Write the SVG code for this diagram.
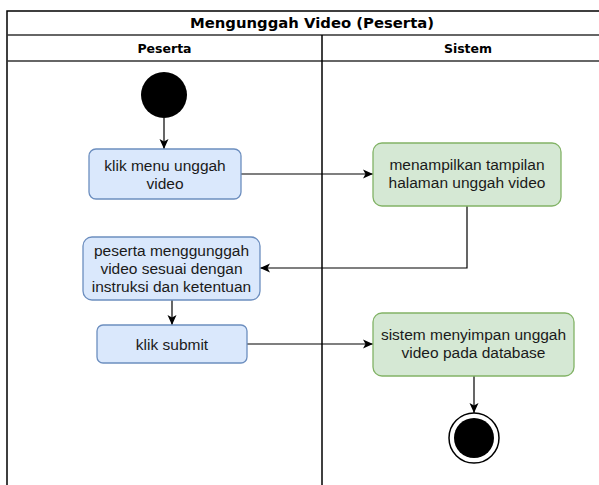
<svg xmlns="http://www.w3.org/2000/svg" width="599" height="485" viewBox="0 0 599 485">
<style>
  .lane { fill: none; stroke: #000; stroke-width: 1.5; }
  .row { stroke: #333; stroke-width: 1.4; }
  .title { font-family: "DejaVu Sans", Verdana, sans-serif; font-weight: bold; fill: #000; text-anchor: middle; }
  .blue { fill: #dae8fc; stroke: #6c8ebf; stroke-width: 1.3; }
  .green { fill: #d5e8d4; stroke: #82b366; stroke-width: 1.3; }
  .lbl { font-family: "Liberation Sans", Arial, sans-serif; font-size: 15.5px; fill: #1a1a1a; text-anchor: middle; }
  .conn { fill: none; stroke: #000; stroke-width: 1.2; marker-end: url(#arrow); }
</style>
<defs>
  <marker id="arrow" markerUnits="userSpaceOnUse" markerWidth="12" markerHeight="10" refX="10" refY="5" orient="auto">
    <path d="M0,0.5 L10,5 L0,9.5 L2.5,5 z" fill="#000"/>
  </marker>
</defs>
<rect width="599" height="485" fill="#fff"/>
<g id="pool">
  <rect class="lane" x="7" y="11" width="607" height="490"/>
  <line class="row" x1="7" y1="35" x2="614" y2="35"/>
  <line class="row" x1="7" y1="61" x2="614" y2="61"/>
  <line class="lane" x1="322" y1="35" x2="322" y2="501"/>
  <text class="title" x="312" y="28" font-size="14.5" textLength="244" lengthAdjust="spacingAndGlyphs">Mengunggah Video (Peserta)</text>
  <text class="title" x="164.5" y="53" font-size="12.5">Peserta</text>
  <text class="title" x="468" y="53" font-size="12.5">Sistem</text>
</g>
<g id="connectors">
  <path class="conn" d="M164 118 V149"/>
  <path class="conn" d="M241 174 H373"/>
  <path class="conn" d="M467 206 V268 H260"/>
  <path class="conn" d="M172 300 V325"/>
  <path class="conn" d="M247 344 H373"/>
  <path class="conn" d="M474 376 V413"/>
</g>
<g id="start">
  <circle cx="164" cy="95" r="23" fill="#000"/>
</g>
<g id="n1">
  <rect class="blue" x="89" y="149" width="152" height="50" rx="7"/>
  <text class="lbl" x="165" y="170.5">klik menu unggah</text>
  <text class="lbl" x="165" y="188.5">video</text>
</g>
<g id="n2">
  <rect class="green" x="373" y="143" width="188" height="63" rx="9"/>
  <text class="lbl" x="467" y="170">menampilkan tampilan</text>
  <text class="lbl" x="467" y="188">halaman unggah video</text>
</g>
<g id="n3">
  <rect class="blue" x="83" y="237" width="177" height="63" rx="9"/>
  <text class="lbl" x="171.5" y="256">peserta menggunggah</text>
  <text class="lbl" x="171.5" y="274">video sesuai dengan</text>
  <text class="lbl" x="171.5" y="292">instruksi dan ketentuan</text>
</g>
<g id="n4">
  <rect class="blue" x="97" y="325" width="150" height="38" rx="6"/>
  <text class="lbl" x="172" y="349.5">klik submit</text>
</g>
<g id="n5">
  <rect class="green" x="373" y="313" width="201" height="63" rx="9"/>
  <text class="lbl" x="473.5" y="340">sistem menyimpan unggah</text>
  <text class="lbl" x="473.5" y="358">video pada database</text>
</g>
<g id="end">
  <circle cx="474" cy="438" r="25" fill="#fff" stroke="#000" stroke-width="1.5"/>
  <circle cx="474" cy="438" r="20" fill="#000"/>
</g>
</svg>
